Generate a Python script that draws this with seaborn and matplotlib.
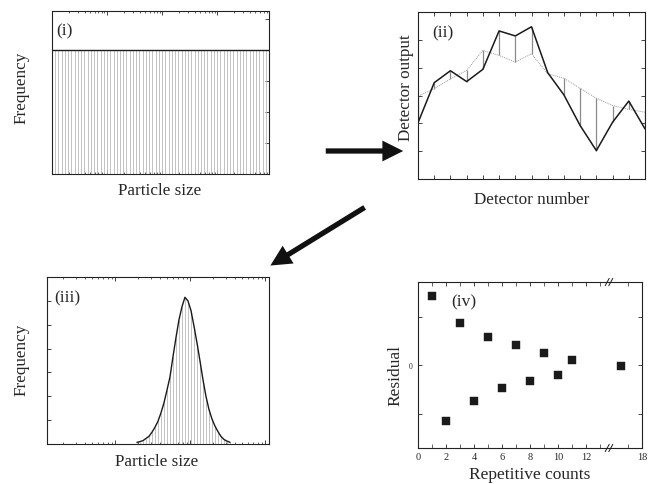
import numpy as np
import pandas as pd
import matplotlib
matplotlib.use("Agg")
import matplotlib.pyplot as plt
import matplotlib.ticker as mticker
from matplotlib.patches import FancyArrowPatch
import seaborn as sns

# ---------------- data ----------------
# Panel (i): flat (uniform) initial size distribution on a log size grid
sizes_i = np.geomspace(0.1, 880.0, 68)
freq_i = [4.0] * 68

# Panel (ii): measured vs calculated detector output
detectors = list(range(1, 16))
measured = [2.02, 3.46, 3.89, 3.50, 3.94, 5.32, 5.14, 5.47, 3.82, 3.02, 1.92, 1.02, 2.04, 2.80, 1.80]
calculated = [2.98, 3.24, 3.60, 3.90, 4.62, 4.44, 4.20, 4.50, 3.78, 3.62, 3.26, 2.90, 2.64, 2.50, 2.40]

# Panel (iii): retrieved size distribution
sizes_iii = np.geomspace(1.96, 34.1, 32)
freq_iii = [0.07, 0.10, 0.14, 0.23, 0.32, 0.49, 0.70, 0.95, 1.30, 1.72, 2.25, 2.80,
            3.65, 4.45, 5.20, 5.75, 6.15, 6.00, 5.60, 4.95, 4.25, 3.49, 2.70, 2.00,
            1.45, 1.05, 0.75, 0.52, 0.32, 0.19, 0.12, 0.07]

# Panel (iv): residual vs repetitive counts
counts = [1, 2, 3, 4, 5, 6, 7, 8, 9, 10, 11, 16.5]
residual = [1.44, -1.16, 0.87, -0.74, 0.58, -0.48, 0.41, -0.32, 0.25, -0.20, 0.10, -0.01]
count_ticks = [0, 2, 4, 6, 8, 10, 12, 18]
count_ticklabels = ["0", "2", "4", "6", "8", "10", "12", "18"]

# ---------------- style ----------------
sns.set_theme(style="ticks")
plt.rcParams["font.family"] = ["Liberation Serif", "DejaVu Serif"]
plt.rcParams.update({
    "axes.linewidth": 0.8,
    "axes.edgecolor": "#222222",
    "xtick.direction": "in",
    "ytick.direction": "in",
    "xtick.major.size": 3,
    "ytick.major.size": 3,
    "xtick.minor.size": 1.6,
    "ytick.minor.size": 1.6,
    "xtick.major.width": 0.6,
    "ytick.major.width": 0.6,
    "xtick.minor.width": 0.5,
    "ytick.minor.width": 0.5,
})

W, H = 651, 485
fig = plt.figure(figsize=(W / 100, H / 100), dpi=100)


def px_axes(l, t, r, b):
    return fig.add_axes([l / W, (H - b) / H, (r - l) / W, (b - t) / H])


def place_labels(ax, box, xl, xl_c, yl, yl_c, size=12.3):
    l, t, r, b = box
    ax.set_xlabel(xl, fontsize=size)
    ax.set_ylabel(yl, fontsize=size)
    ax.xaxis.set_label_coords((xl_c[0] - l) / (r - l), (b - xl_c[1]) / (b - t))
    ax.yaxis.set_label_coords((yl_c[0] - l) / (r - l), (b - yl_c[1]) / (b - t))
    ax.xaxis.label.set_va("center")
    ax.yaxis.label.set_va("center")


def panel_tag(ax, box, text, x, y, size=12.5):
    l, t, r, b = box
    ax.text((x - l) / (r - l), (b - y) / (b - t), text, transform=ax.transAxes,
            ha="left", va="center", fontsize=size)


def all_spines(ax):
    for s in ax.spines.values():
        s.set_visible(True)
        s.set_color("#222222")


ink = "#1a1a1a"
barc = "#b8b8b8"

# ---------------- panel (i) ----------------
box1 = (52, 12, 269, 175)
ax1 = px_axes(*box1)
all_spines(ax1)
ax1.set_xscale("log")
ax1.vlines(sizes_i, 0, freq_i, color=barc, lw=0.6)
sns.lineplot(x=sizes_i, y=freq_i, ax=ax1, color=ink, lw=1.0)
ax1.set_xlim(0.1, 880)
ax1.set_ylim(0, 5.26)
ax1.xaxis.set_major_locator(mticker.LogLocator(base=10, numticks=10))
ax1.xaxis.set_minor_locator(mticker.LogLocator(base=10, subs=np.arange(2, 10), numticks=20))
ax1.set_yticks([1, 2, 3, 4, 5])
ax1.tick_params(axis="x", which="both", top=True, bottom=True, labelbottom=False)
ax1.tick_params(axis="y", which="both", left=False, right=True, labelleft=False)
ax1.xaxis.set_minor_formatter(mticker.NullFormatter())
place_labels(ax1, box1, "Particle size", (160, 191), "Frequency", (22, 88))
panel_tag(ax1, box1, "(i)", 56, 31)

# ---------------- panel (ii) ----------------
box2 = (418, 13, 645, 180)
ax2 = px_axes(*box2)
all_spines(ax2)
ax2.vlines(detectors, calculated, measured, color="#8a8a8a", lw=0.9)
sns.lineplot(x=detectors, y=calculated, ax=ax2, color="#9a9a9a", lw=0.7, linestyle=(0, (1.0, 1.0)))
sns.lineplot(x=detectors, y=measured, ax=ax2, color=ink, lw=1.1)
ax2.set_xlim(1, 15)
ax2.set_ylim(0, 6)
ax2.set_xticks(detectors)
ax2.set_yticks([1, 2, 3, 4, 5])
ax2.tick_params(axis="x", top=True, bottom=True, labelbottom=False)
ax2.tick_params(axis="y", left=True, right=True, labelleft=False)
place_labels(ax2, box2, "Detector number", (532, 200), "Detector output", (406, 88))
panel_tag(ax2, box2, "(ii)", 432, 33)

# ---------------- panel (iii) ----------------
box3 = (47, 278, 269, 445)
ax3 = px_axes(*box3)
all_spines(ax3)
ax3.set_xscale("log")
ax3.vlines(sizes_iii, 0, freq_iii, color=barc, lw=0.6)
sns.lineplot(x=sizes_iii, y=freq_iii, ax=ax3, color=ink, lw=1.0)
ax3.set_xlim(0.124, 113)
ax3.set_ylim(0, 7)
ax3.xaxis.set_major_locator(mticker.LogLocator(base=10, numticks=10))
ax3.xaxis.set_minor_locator(mticker.LogLocator(base=10, subs=np.arange(2, 10), numticks=20))
ax3.xaxis.set_minor_formatter(mticker.NullFormatter())
ax3.set_yticks([1, 2, 3, 4, 5, 6])
ax3.tick_params(axis="x", which="both", top=True, bottom=True, labelbottom=False)
ax3.tick_params(axis="y", left=True, right=False, labelleft=False)
place_labels(ax3, box3, "Particle size", (157, 462), "Frequency", (22, 360))
panel_tag(ax3, box3, "(iii)", 54, 298)

# ---------------- panel (iv) ----------------
box4 = (418, 283, 642, 449)
ax4 = px_axes(*box4)
all_spines(ax4)

BRK0, BRK1, SQ = 13.65, 15.65, 0.01


def fwd(x):
    x = np.asarray(x, dtype=float)
    return np.interp(x, [-1000, BRK0, BRK1, 1000],
                     [-1000, BRK0, BRK0 + (BRK1 - BRK0) * SQ, BRK0 + (BRK1 - BRK0) * SQ + (1000 - BRK1)])


def inv(y):
    y = np.asarray(y, dtype=float)
    return np.interp(y, [-1000, BRK0, BRK0 + (BRK1 - BRK0) * SQ, BRK0 + (BRK1 - BRK0) * SQ + (1000 - BRK1)],
                     [-1000, BRK0, BRK1, 1000])


ax4.set_xscale("function", functions=(fwd, inv))
df4 = pd.DataFrame({"count": counts, "residual": residual})
sns.scatterplot(data=df4, x="count", y="residual", ax=ax4, marker="s", s=26,
                color=ink, edgecolor=ink, linewidth=0.3)
ax4.set_xlim(0, 18)
ax4.set_ylim(-1.71, 1.72)
ax4.set_xticks(count_ticks)
ax4.set_xticklabels(count_ticklabels, fontsize=7.4)
ax4.set_xticks([1, 3, 5, 7, 9, 11, 13, 17], minor=True)
ax4.set_yticks([-1, 0, 1])
ax4.set_yticklabels(["", "0", ""], fontsize=5.5)
ax4.tick_params(axis="x", which="both", top=True, bottom=True, pad=3)
ax4.tick_params(axis="x", which="minor", length=3)
ax4.tick_params(axis="y", left=True, right=True, pad=4)
place_labels(ax4, box4, "Repetitive counts", (530, 475), "Residual", (395, 375), size=12.5)
panel_tag(ax4, box4, "(iv)", 451, 302)

# axis break marks
xb = (fwd(14.65) - fwd(0)) / (fwd(18) - fwd(0))
for yb in (0.0, 1.0):
    for dx in (-0.008, 0.008):
        ax4.plot([xb + dx - 0.009, xb + dx + 0.009], [yb - 0.022, yb + 0.022],
                 transform=ax4.transAxes, color=ink, lw=0.7, clip_on=False)

# ---------------- arrows ----------------
def fig_arrow(p0, p1):
    a = FancyArrowPatch((p0[0] / W, 1 - p0[1] / H), (p1[0] / W, 1 - p1[1] / H),
                        transform=fig.transFigure,
                        arrowstyle="simple,tail_width=3.8,head_width=15,head_length=15",
                        mutation_scale=1, color="#111111", lw=0)
    fig.add_artist(a)


fig_arrow((323, 152), (406, 152))
fig_arrow((367, 207), (268, 268))

fig.savefig("out.png", dpi=100, facecolor="white")
